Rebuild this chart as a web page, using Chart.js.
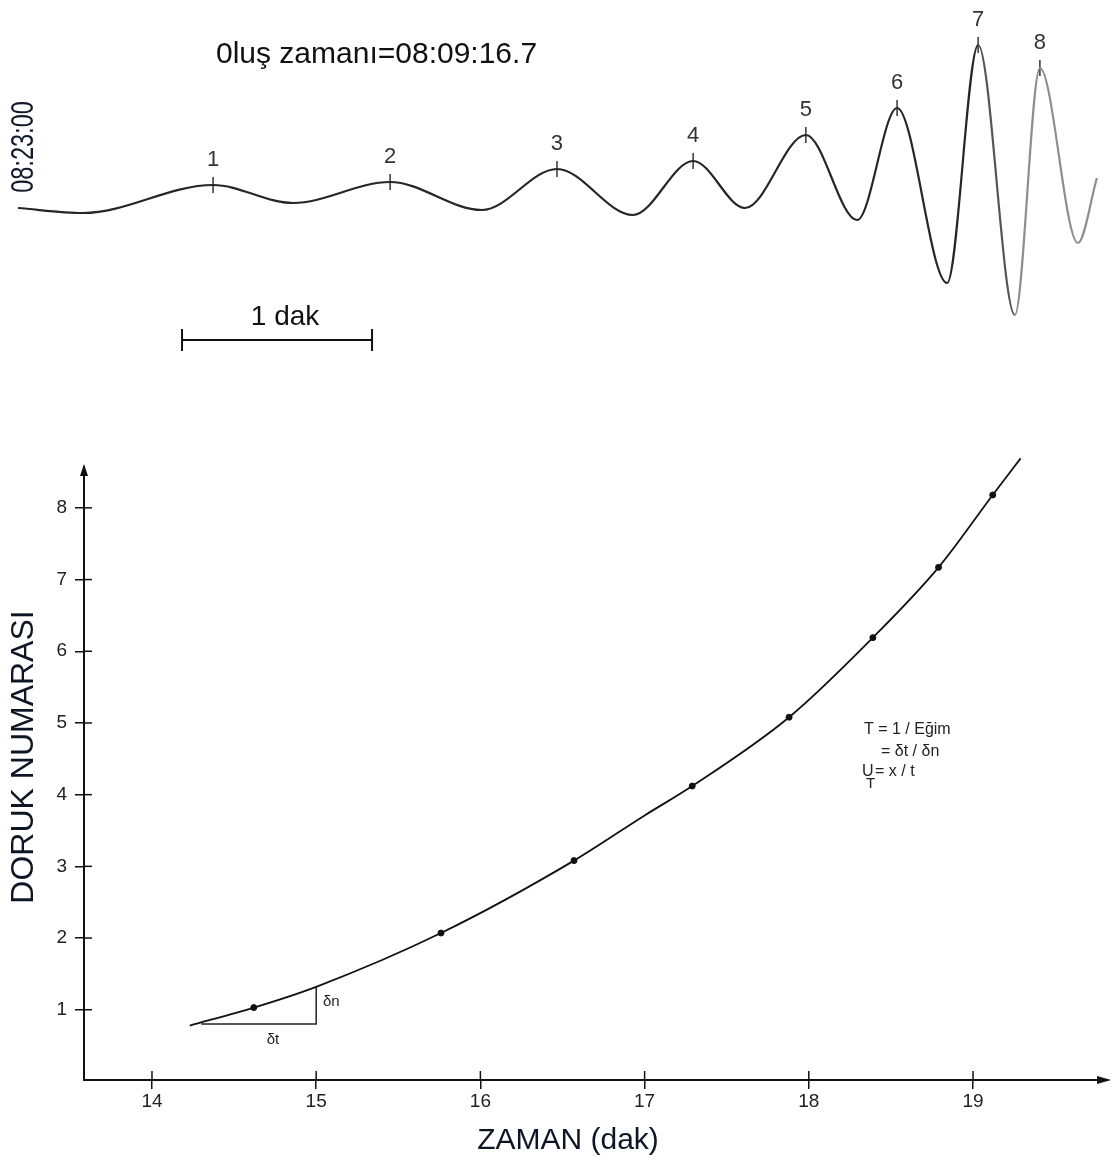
<!DOCTYPE html>
<html>
<head>
<meta charset="utf-8">
<script src="https://cdn.jsdelivr.net/npm/chart.js@4.4.1/dist/chart.umd.min.js"></script>
<style>
html,body{margin:0;padding:0;background:#fff;}
#wrap{position:relative;width:1112px;height:1162px;overflow:hidden;background:#fff;}
canvas{position:absolute;left:0;top:0;}
</style>
</head>
<body>
<div id="wrap">
<canvas id="bot" width="1112" height="1162"></canvas>
<canvas id="top" width="1112" height="380"></canvas>
</div>
<script>
// ---------- DATA ----------
// Seismogram trace (time in s after 08:23:00, amplitude in arbitrary units)
const waveTime = [0, 20.5, 61.6, 86.8, 117.5, 146.5, 170.2, 194.2, 213.2, 229.6, 248.8, 265.0, 277.6, 293.4, 303.2, 314.8, 322.7, 334.7, 340.7];
const waveAmp  = [0.2, -0.3, 2.5, 0.7, 2.8, 0.0, 4.1, -0.5, 4.9, 0.2, 7.5, -1.0, 10.2, -7.3, 16.5, -10.5, 14.2, -3.3, 3.2];
// Picked peaks on the trace
const peakLabels = ['1','2','3','4','5','6','7','8'];
const peakTime = [61.6, 117.5, 170.2, 213.2, 248.8, 277.6, 303.2, 322.7];
const peakAmp  = [2.5, 2.8, 4.1, 4.9, 7.5, 10.2, 16.5, 14.2];
// 1-minute scale bar (s)
const scaleBarTime = [51.8, 111.8];
const scaleBarAmp = [-13, -13];

// Peak number vs arrival time (minutes)
const peakMinutes = [14.62, 15.76, 16.57, 17.29, 17.88, 18.39, 18.79, 19.12];
const peakNumbers = [1.03, 2.07, 3.08, 4.12, 5.08, 6.19, 7.17, 8.18];
// Hand-drawn fitted curve
const curveMinutes = [14.23, 14.62, 15.00, 15.76, 16.57, 17.00, 17.29, 17.88, 18.39, 18.79, 19.12, 19.29];
const curveNumbers = [0.78, 1.03, 1.32, 2.07, 3.08, 3.71, 4.12, 5.08, 6.19, 7.17, 8.18, 8.69];
// Slope triangle
const triMinutes = [14.30, 15.00, 15.00];
const triNumbers = [0.80, 0.80, 1.32];
// Tick labels
const xTickValues = [14, 15, 16, 17, 18, 19];
const yTickValues = [1, 2, 3, 4, 5, 6, 7, 8];

const FONT = '"Liberation Sans", Arial, sans-serif';
const pts = (xs, ys) => xs.map((v, i) => ({x: v, y: ys[i]}));

// ---------- TOP: seismogram ----------
const topText = {
  id: 'topText',
  afterDraw(chart) {
    const {ctx, scales: {x, y}} = chart;
    ctx.save();
    ctx.fillStyle = '#111';
    ctx.font = '30px ' + FONT;
    ctx.textAlign = 'left';
    ctx.textBaseline = 'alphabetic';
    ctx.fillText('0luş zamanı=08:09:16.7', 216, 63);

    ctx.save();
    ctx.translate(33, 147);
    ctx.rotate(-Math.PI / 2);
    ctx.scale(0.76, 1);
    ctx.font = '31px ' + FONT;
    ctx.textAlign = 'center';
    ctx.fillStyle = '#10182a';
    ctx.fillText('08:23:00', 0, 0);
    ctx.restore();

    ctx.fillStyle = '#333';
    ctx.font = '22px ' + FONT;
    ctx.textAlign = 'center';
    ctx.textBaseline = 'middle';
    peakLabels.forEach((lab, i) => {
      ctx.fillText(lab, x.getPixelForValue(peakTime[i]), y.getPixelForValue(peakAmp[i]) - 25);
    });

    ctx.fillStyle = '#111';
    ctx.font = '28px ' + FONT;
    ctx.textBaseline = 'alphabetic';
    const cx = x.getPixelForValue((scaleBarTime[0] + scaleBarTime[1]) / 2) + 8;
    ctx.fillText('1 dak', cx, y.getPixelForValue(scaleBarAmp[0]) - 15);
    ctx.restore();
  }
};

new Chart(document.getElementById('top'), {
  type: 'line',
  data: {
    datasets: [
      {
        data: pts(waveTime, waveAmp),
        borderColor: '#262626',
        borderWidth: 2.2,
        pointRadius: 0,
        cubicInterpolationMode: 'monotone',
        segment: {
          borderColor: c => c.p0DataIndex >= 15 ? '#8e8e8e' : (c.p0DataIndex === 14 ? '#555' : '#262626')
        }
      },
      {
        data: pts(peakTime, peakAmp),
        showLine: false,
        pointStyle: 'line',
        pointRotation: 90,
        pointRadius: 8,
        pointBorderWidth: 1.5,
        pointBorderColor: '#333',
        borderColor: '#333'
      },
      {
        data: pts(scaleBarTime, scaleBarAmp),
        borderColor: '#111',
        borderWidth: 2,
        tension: 0,
        pointStyle: 'line',
        pointRotation: 90,
        pointRadius: 11,
        pointBorderWidth: 2,
        pointBorderColor: '#111'
      }
    ]
  },
  options: {
    responsive: false,
    animation: false,
    events: [],
    layout: {padding: 0, autoPadding: false},
    plugins: {legend: {display: false}, tooltip: {enabled: false}},
    scales: {
      x: {type: 'linear', display: false, min: -5.684, max: 345.47},
      y: {type: 'linear', display: false, min: -17, max: 21}
    }
  },
  plugins: [topText]
});

// ---------- BOTTOM: peak number vs time ----------
const botDecor = {
  id: 'botDecor',
  afterDraw(chart) {
    const {ctx, chartArea: a, scales: {x, y}} = chart;
    ctx.save();
    ctx.strokeStyle = '#111';
    ctx.lineWidth = 1.5;
    yTickValues.forEach(v => {
      const py = y.getPixelForValue(v);
      ctx.beginPath(); ctx.moveTo(a.left, py); ctx.lineTo(a.left + 8, py); ctx.stroke();
    });
    xTickValues.forEach(v => {
      const px = x.getPixelForValue(v);
      ctx.beginPath(); ctx.moveTo(px, a.bottom); ctx.lineTo(px, a.bottom - 9); ctx.stroke();
    });
    ctx.fillStyle = '#111';
    ctx.beginPath();
    ctx.moveTo(a.left, a.top - 3); ctx.lineTo(a.left - 4, a.top + 9); ctx.lineTo(a.left + 4, a.top + 9);
    ctx.closePath(); ctx.fill();
    ctx.beginPath();
    ctx.moveTo(a.right + 3, a.bottom); ctx.lineTo(a.right - 11, a.bottom - 4); ctx.lineTo(a.right - 11, a.bottom + 4);
    ctx.closePath(); ctx.fill();

    // axis titles
    ctx.fillStyle = '#0e1626';
    ctx.font = '32px ' + FONT;
    ctx.textAlign = 'center';
    ctx.textBaseline = 'middle';
    ctx.save();
    ctx.translate(24, 757);
    ctx.rotate(-Math.PI / 2);
    ctx.fillText('DORUK NUMARASI', 0, 0);
    ctx.restore();
    ctx.font = '30px ' + FONT;
    ctx.fillText('ZAMAN (dak)', 568, 1141);

    // triangle labels
    ctx.fillStyle = '#222';
    ctx.font = '15px ' + FONT;
    ctx.textAlign = 'left';
    ctx.fillText('δn', 323, 1002);
    ctx.textAlign = 'center';
    ctx.fillText('δt', 273, 1040);

    // formula block
    ctx.font = '16px ' + FONT;
    ctx.textAlign = 'left';
    ctx.fillText('T = 1 / Eğim', 864, 730);
    ctx.fillText('= δt / δn', 881, 752);
    ctx.fillText('U', 862, 772);
    ctx.fillText('= x / t', 875, 772);
    ctx.font = '15px ' + FONT;
    ctx.fillText('T', 866, 784);
    ctx.restore();
  }
};

new Chart(document.getElementById('bot'), {
  type: 'line',
  data: {
    datasets: [
      {
        data: pts(curveMinutes, curveNumbers),
        borderColor: '#111',
        borderWidth: 1.8,
        pointRadius: 0,
        clip: false,
        cubicInterpolationMode: 'monotone'
      },
      {
        data: pts(triMinutes, triNumbers),
        borderColor: '#222',
        borderWidth: 1.5,
        pointRadius: 0,
        tension: 0
      },
      {
        data: pts(peakMinutes, peakNumbers),
        showLine: false,
        pointRadius: 3,
        pointBackgroundColor: '#111',
        pointBorderColor: '#111',
        pointBorderWidth: 1
      }
    ]
  },
  options: {
    responsive: false,
    animation: false,
    events: [],
    layout: {padding: {top: 467, right: 4, left: 0, bottom: 0}, autoPadding: false},
    plugins: {legend: {display: false}, tooltip: {enabled: false}},
    scales: {
      x: {
        type: 'linear',
        min: 13.586, max: 19.822,
        afterBuildTicks: s => { s.ticks = xTickValues.map(v => ({value: v})); },
        afterFit: s => { s.height = 82; },
        ticks: {color: '#222', font: {size: 19, family: FONT}, padding: 1, callback: v => String(v)},
        grid: {drawOnChartArea: false, drawTicks: true, tickLength: 9, color: '#111', lineWidth: 1.5},
        border: {display: true, color: '#111', width: 2}
      },
      y: {
        type: 'linear',
        min: 0.02, max: 8.57,
        afterBuildTicks: s => { s.ticks = yTickValues.map(v => ({value: v})); },
        afterFit: s => { s.width = 84; },
        ticks: {color: '#222', font: {size: 19, family: FONT}, padding: 8, callback: v => String(v)},
        grid: {drawOnChartArea: false, drawTicks: true, tickLength: 9, color: '#111', lineWidth: 1.5},
        border: {display: true, color: '#111', width: 2}
      }
    }
  },
  plugins: [botDecor]
});
</script>
</body>
</html>
